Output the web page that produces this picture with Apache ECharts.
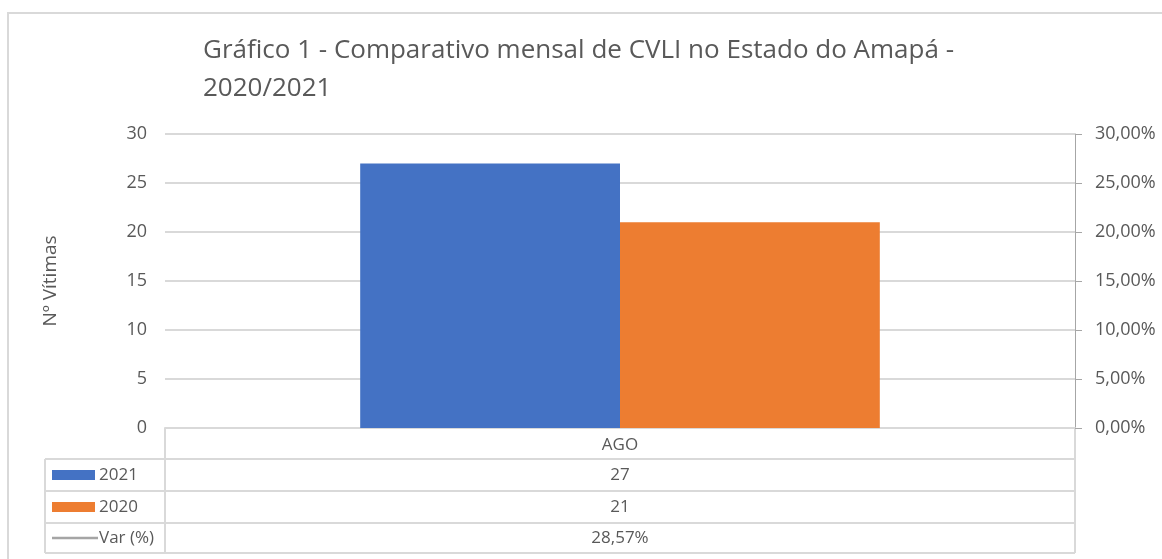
<!DOCTYPE html>
<html>
<head>
<meta charset="utf-8">
<script src="https://cdn.jsdelivr.net/npm/echarts@6/dist/echarts.min.js"></script>
<style>
html,body{margin:0;padding:0;background:#fff;}
#chart{width:1162px;height:559px;}
</style>
</head>
<body>
<div id="chart"></div>
<script>
// ---- data ----
var categories = ['AGO'];
var seriesNames = ['2021', '2020', 'Var (%)'];
var values2021 = [27];
var values2020 = [21];
var varPct = [0.2857];
var leftTicks = [0, 5, 10, 15, 20, 25, 30];
var rightTicks = [0, 0.05, 0.10, 0.15, 0.20, 0.25, 0.30];

var FONT = '"Open Sans", "Liberation Sans", sans-serif';
var TXT = '#595959';
var GRID_C = '#d9d9d9';
var colors = ['#4472C4', '#ED7D31', '#A5A5A5'];

function pct(v) { return (v * 100).toFixed(2).replace('.', ',') + '%'; }

var G = { left: 165, right: 1075, top: 134, bottom: 428 };
var rowH = [428, 459, 491, 523, 553];
var tableLeft = 45;

var chart = echarts.init(document.getElementById('chart'));

var graphics = [];
// outer border
graphics.push({ type: 'rect', shape: { x: 8, y: 13, width: 1200, height: 600 }, style: { fill: 'none', stroke: GRID_C, lineWidth: 2 }, silent: true });
// table horizontal lines
for (var i = 1; i < rowH.length; i++) {
  graphics.push({ type: 'line', shape: { x1: tableLeft, y1: rowH[i], x2: G.right, y2: rowH[i] }, style: { stroke: GRID_C, lineWidth: 2 } });
}
// table vertical lines
graphics.push({ type: 'line', shape: { x1: tableLeft, y1: rowH[1], x2: tableLeft, y2: rowH[4] }, style: { stroke: GRID_C, lineWidth: 2 } });
graphics.push({ type: 'line', shape: { x1: G.left, y1: rowH[0], x2: G.left, y2: rowH[4] }, style: { stroke: GRID_C, lineWidth: 2 } });
graphics.push({ type: 'line', shape: { x1: G.right, y1: rowH[0], x2: G.right, y2: rowH[4] }, style: { stroke: GRID_C, lineWidth: 2 } });

var rowValues = [values2021.map(String), values2020.map(String), varPct.map(pct)];
var catW = (G.right - G.left) / categories.length;
for (var r = 0; r < 3; r++) {
  var yc = (rowH[r + 1] + rowH[r + 2]) / 2;
  // legend key
  if (r < 2) {
    graphics.push({ type: 'rect', shape: { x: 52, y: yc - 5, width: 43, height: 10 }, style: { fill: colors[r] } });
  } else {
    graphics.push({ type: 'line', shape: { x1: 52, y1: yc, x2: 98, y2: yc }, style: { stroke: colors[r], lineWidth: 2.5 } });
  }
  graphics.push({ type: 'text', x: 99, y: yc, style: { text: seriesNames[r], font: '17px ' + FONT, fill: TXT, textVerticalAlign: 'middle', textAlign: 'left' } });
  for (var c = 0; c < categories.length; c++) {
    graphics.push({ type: 'text', x: G.left + catW * (c + 0.5), y: yc, style: { text: rowValues[r][c], font: '17px ' + FONT, fill: TXT, textAlign: 'center', textVerticalAlign: 'middle' } });
  }
}

chart.setOption({
  animation: false,
  backgroundColor: '#fff',
  title: {
    text: 'Gráfico 1 - Comparativo mensal de CVLI no Estado do Amapá -\n2020/2021',
    left: 198, top: 27,
    textStyle: { fontFamily: FONT, fontSize: 26, fontWeight: 'normal', color: TXT, lineHeight: 38 }
  },
  grid: { left: G.left, right: 1162 - G.right, top: G.top, bottom: 559 - G.bottom, containLabel: false },
  xAxis: {
    type: 'category', data: categories,
    axisLine: { show: true, lineStyle: { color: GRID_C, width: 2 } },
    axisTick: { show: false },
    axisLabel: { color: TXT, fontFamily: FONT, fontSize: 17, margin: 9 }
  },
  yAxis: [{
    type: 'value', min: 0, max: 30, interval: 5,
    name: 'Nº Vítimas', nameLocation: 'middle', nameGap: 105, nameRotate: 90,
    nameTextStyle: { color: TXT, fontFamily: FONT, fontSize: 19 },
    axisLine: { show: false }, axisTick: { show: false },
    axisLabel: { color: TXT, fontFamily: FONT, fontSize: 18, margin: 18 },
    splitLine: { lineStyle: { color: GRID_C, width: 2 } }
  }, {
    type: 'value', min: 0, max: 0.30, interval: 0.05, position: 'right',
    axisLine: { show: true, lineStyle: { color: '#a6a6a6', width: 1 } },
    axisTick: { show: true, length: 7, lineStyle: { color: '#a6a6a6' } },
    axisLabel: { color: TXT, fontFamily: FONT, fontSize: 18, margin: 20, formatter: pct },
    splitLine: { show: false }
  }],
  series: [
    { name: seriesNames[0], type: 'bar', data: values2021, itemStyle: { color: colors[0] }, barGap: '0%', barCategoryGap: '42.9%' },
    { name: seriesNames[1], type: 'bar', data: values2020, itemStyle: { color: colors[1] }, barGap: '0%', barCategoryGap: '42.9%' },
    { name: seriesNames[2], type: 'line', yAxisIndex: 1, data: varPct, showSymbol: false, symbol: 'none', lineStyle: { color: colors[2], width: 3 } }
  ],
  graphic: graphics
});
</script>
</body>
</html>
